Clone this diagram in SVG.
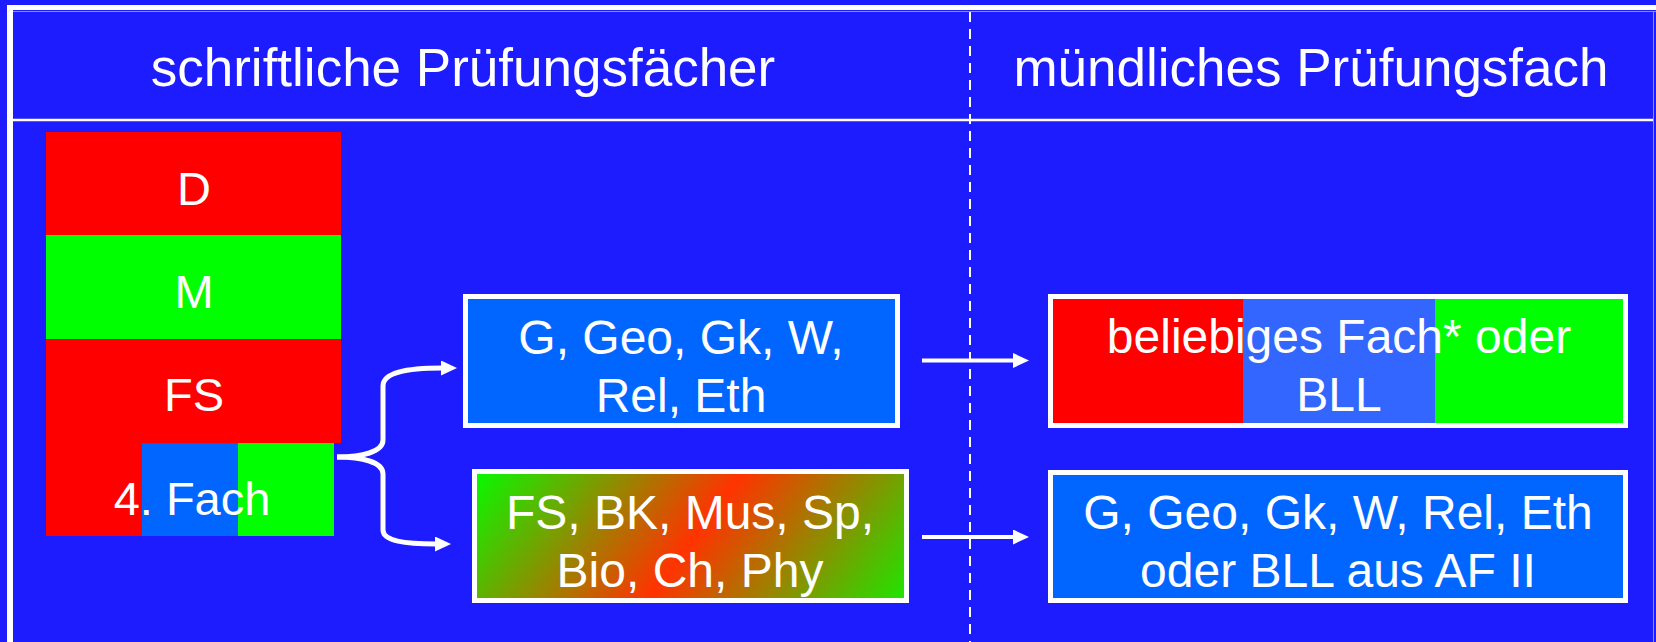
<svg xmlns="http://www.w3.org/2000/svg" width="1656" height="642" viewBox="0 0 1656 642">
<style>
text{font-family:"Liberation Sans",Arial,sans-serif;fill:#fff;text-anchor:middle}
.hd{font-size:53px}
.st{font-size:47px}
.bx{font-size:48px}
.frame{fill:none;stroke:#fff;stroke-width:5}
.con{fill:none;stroke:#fff;stroke-width:5}
.arr{fill:none;stroke:#fff;stroke-width:4}
</style>
<defs>
<marker id="ah" markerUnits="userSpaceOnUse" markerWidth="18" markerHeight="16" refX="1" refY="7.5" orient="auto">
<path d="M0,0 L16,7.5 L0,15 z" fill="#fff"/>
</marker>
<linearGradient id="gr" gradientUnits="userSpaceOnUse" x1="520" y1="405" x2="870" y2="667">
<stop offset="0" stop-color="#00ff00"/>
<stop offset="0.5" stop-color="#ff3300"/>
<stop offset="1" stop-color="#11f000"/>
</linearGradient>
</defs>
<rect x="0" y="0" width="1656" height="642" fill="#1c1cff"/>
<g id="table">
<line x1="10" y1="5" x2="10" y2="642" stroke="#fff" stroke-width="6"/>
<line x1="7" y1="7.5" x2="1656" y2="7.5" stroke="#fff" stroke-width="5"/>
<line x1="13" y1="11.5" x2="1656" y2="11.5" stroke="#8c8cff" stroke-width="1"/>
<line x1="1653.5" y1="11" x2="1653.5" y2="642" stroke="#8c8cff" stroke-width="1"/>
<line x1="13" y1="120" x2="1653" y2="120" stroke="#fff" stroke-width="2.5"/>
<line x1="970" y1="12" x2="970" y2="642" stroke="#fff" stroke-width="2" stroke-dasharray="10,7"/>
<text class="hd" x="463" y="86">schriftliche Prüfungsfächer</text>
<text class="hd" x="1311" y="86">mündliches Prüfungsfach</text>
</g>
<g id="stack">
<rect x="46" y="132" width="295" height="103" fill="#ff0000"/>
<rect x="46" y="235" width="295" height="104" fill="#00ff00"/>
<rect x="46" y="339" width="295" height="104" fill="#ff0000"/>
<rect x="46" y="443" width="96" height="93" fill="#ff0000"/>
<rect x="142" y="443" width="96" height="93" fill="#0066ff"/>
<rect x="238" y="443" width="96" height="93" fill="#00ff00"/>
<text class="st" x="194" y="205">D</text>
<text class="st" x="194" y="308">M</text>
<text class="st" x="194" y="411">FS</text>
<text class="st" x="192" y="515">4. Fach</text>
</g>
<g id="box1">
<rect x="465.5" y="296.5" width="432" height="129" fill="#0066ff" class="frame" style="fill:#0066ff"/>
<text class="bx" x="681" y="354">G, Geo, Gk, W,</text>
<text class="bx" x="681" y="412">Rel, Eth</text>
</g>
<g id="box2">
<rect x="474.5" y="471.5" width="432" height="129" class="frame" style="fill:url(#gr)"/>
<text class="bx" x="690" y="529">FS, BK, Mus, Sp,</text>
<text class="bx" x="690" y="587">Bio, Ch, Phy</text>
</g>
<g id="box3">
<rect x="1053" y="299" width="190" height="126" fill="#ff0000"/>
<rect x="1243" y="299" width="192" height="126" fill="#3366ff"/>
<rect x="1435" y="299" width="190" height="126" fill="#00ff00"/>
<rect x="1050.5" y="296.5" width="575" height="129" class="frame"/>
<text class="bx" x="1339" y="353">beliebiges Fach* oder</text>
<text class="bx" x="1339" y="411">BLL</text>
</g>
<g id="box4">
<rect x="1050.5" y="472.5" width="575" height="128" class="frame" style="fill:#0066ff"/>
<text class="bx" x="1338" y="529">G, Geo, Gk, W, Rel, Eth</text>
<text class="bx" x="1338" y="587">oder BLL aus AF II</text>
</g>
<g id="connectors">
<path class="con" d="M337,457 C362,457 383,452 383,440 L383,386 C383,373 405,368 442,368" marker-end="url(#ah)"/>
<path class="con" d="M337,457 C362,457 383,462 383,474 L383,530 C383,541 405,544 436,544" marker-end="url(#ah)"/>
<line class="arr" x1="922" y1="360.5" x2="1014" y2="360.5" marker-end="url(#ah)"/>
<line class="arr" x1="922" y1="537" x2="1014" y2="537" marker-end="url(#ah)"/>
</g>
</svg>
